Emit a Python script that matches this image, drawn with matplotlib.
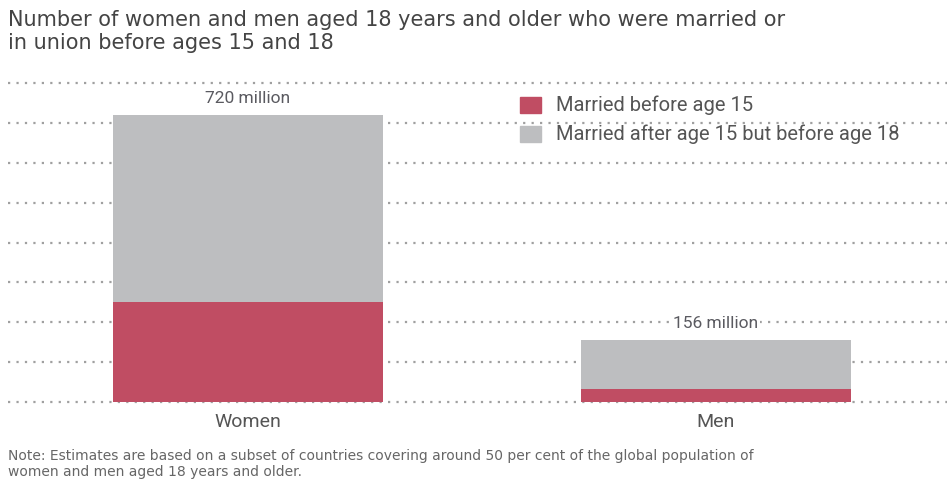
import matplotlib.pyplot as plt
from matplotlib import font_manager
import numpy as np

# stacked totals in millions
groups = ["Women", "Men"]
before_15 = [250, 33]
before_18 = [720, 156]
between_15_18 = [t - b for t, b in zip(before_18, before_15)]
total_labels = ["720 million", "156 million"]

red = "#C04D63"
grey = "#BDBEC0"

names = {f.name for f in font_manager.fontManager.ttflist}
narrow = "Liberation Sans Narrow" if "Liberation Sans Narrow" in names else "Roboto"

fig = plt.figure(figsize=(9.47, 4.79), dpi=100)
ax = fig.add_axes([8 / 947, 77 / 479, 939 / 947, 319 / 479])

x = np.arange(len(groups))
w = 0.577
ax.bar(x, before_15, width=w, color=red, zorder=3)
ax.bar(x, between_15_18, width=w, bottom=before_15, color=grey, zorder=3)

ax.set_xlim(-0.513, 1.494)
ax.set_ylim(0, 800)
for yv in range(0, 801, 100):
    ax.axhline(yv, color="#a0a0a0", lw=1.6, ls=(0, (1, 2.8)), zorder=1, clip_on=False)

for xi, tot, lab in zip(x, before_18, total_labels):
    ax.text(xi, tot + 40, lab, ha="center", va="center", fontsize=12.5,
            family=narrow, color="#5a5a60", zorder=4,
            bbox=dict(facecolor="white", edgecolor="none", pad=1))

for xi, g in zip(x, groups):
    ax.text(xi, -50, g, ha="center", va="center", fontsize=14,
            family=narrow, color="#555555")

ax.axis("off")

# legend drawn by hand
leg = [(red, "Married before age 15"), (grey, "Married after age 15 but before age 18")]
for i, (c, lab) in enumerate(leg):
    yy = 479 - 105 - i * 29
    fig.patches.append(plt.Rectangle((520 / 947, (yy - 8) / 479), 21 / 947, 16 / 479,
                                     transform=fig.transFigure, color=c))
    fig.text(556 / 947, yy / 479, lab, ha="left", va="center", fontsize=14.5,
             family=narrow, color="#555555")

title_font = dict(ha="left", va="center", fontsize=15, family="DejaVu Sans", color="#444444")
fig.text(8 / 947, 1 - 20 / 479, "Number of women and men aged 18 years and older who were married or", **title_font)
fig.text(8 / 947, 1 - 43 / 479, "in union before ages 15 and 18", **title_font)

note_font = dict(ha="left", va="center", fontsize=10, family="DejaVu Sans", color="#666666")
fig.text(8 / 947, 1 - 456 / 479,
         "Note: Estimates are based on a subset of countries covering around 50 per cent of the global population of",
         **note_font)
fig.text(8 / 947, 1 - 472 / 479, "women and men aged 18 years and older.", **note_font)

fig.savefig("out.png", dpi=100)
